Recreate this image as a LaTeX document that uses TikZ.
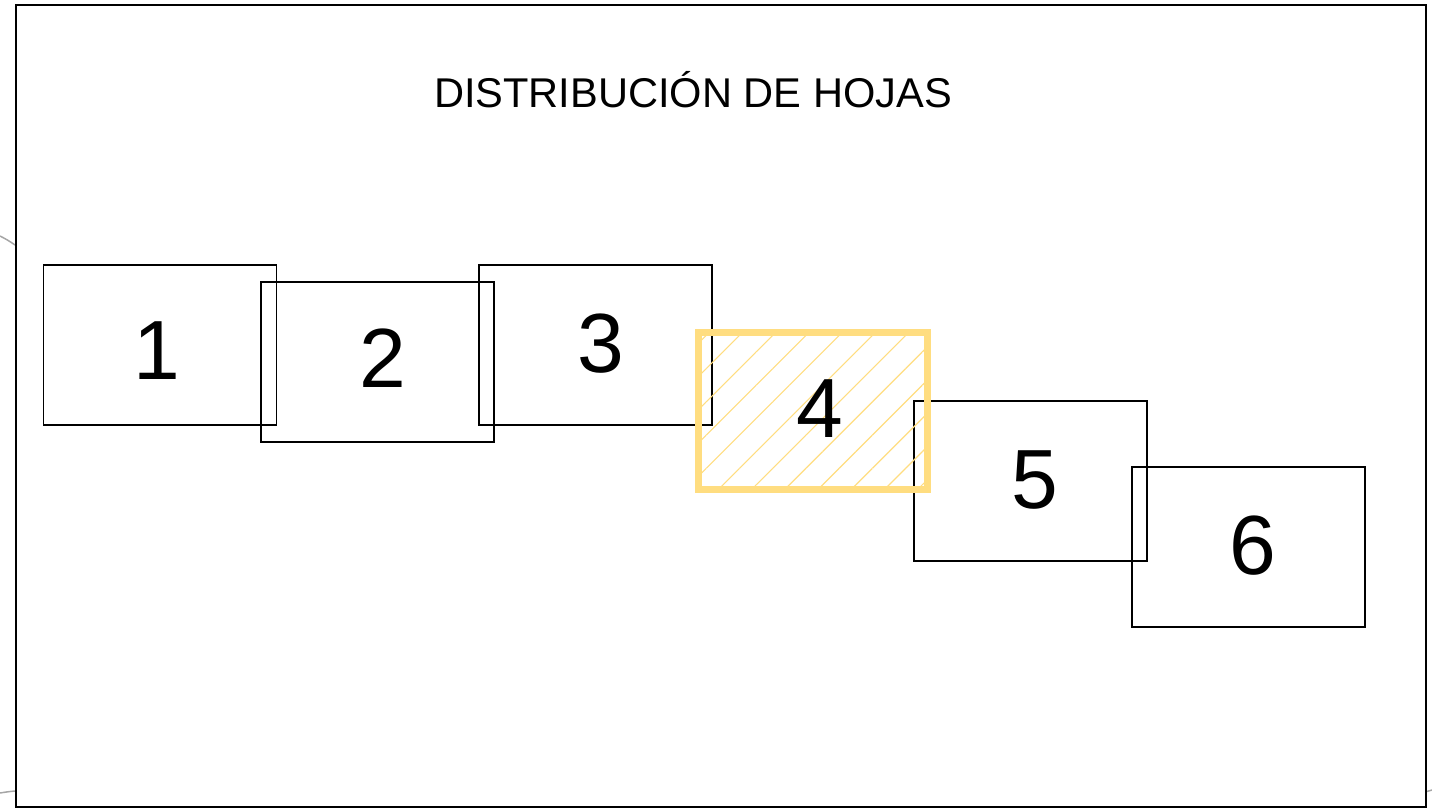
\documentclass[tikz,border=0pt]{standalone}
\usepackage{fontspec}
\setmainfont{Liberation Sans}
\usepackage{xcolor}
\usetikzlibrary{patterns.meta}
\definecolor{hojaamarilla}{RGB}{255,221,128}
\tikzset{
	numero/.style={font=\fontsize{42}{50}\selectfont, inner sep=0pt},
	hoja/.style n args={3}{draw, line width=0.75pt, minimum width=116.5pt, minimum height=80pt, inner sep=0pt,
		label={[numero, xshift=#2, yshift=#3]center:#1}},
	hojasel/.style n args={3}{draw=hojaamarilla, line width=3.75pt, minimum width=114.5pt, minimum height=78.5pt, inner sep=0pt,
		pattern={Lines[angle=45, distance=11.75pt, line width=0.55pt]}, pattern color=hojaamarilla,
		label={[numero, xshift=#2, yshift=#3]center:#1}},
	arco/.style={draw=gray!70, line width=0.75pt}
}
\begin{document}
\begin{tikzpicture}[x=0.5pt, y=-0.5pt]
			\useasboundingbox (0,0) rectangle (1432,809);
			%coordinates
			\coordinate (Cuno)    at (160,345);
			\coordinate (Cdos)    at (377.5,362);
			\coordinate (Ctres)   at (595.5,345);
			\coordinate (Ccuatro) at (813,411);
			\coordinate (Ccinco)  at (1030.5,481);
			\coordinate (Cseis)   at (1248.5,547);
			
			%bits of the sheet behind
			\draw[arco] (0,236) to[bend left=4] (15,245);
			\draw[arco] (0,793) to[bend left=2] (15,791);
			\draw[arco] (1425,792) -- (1432,790);
			
			%frame
			\node[draw, line width=1pt, fill=white, minimum width=705pt, minimum height=401pt, anchor=north west, inner sep=0pt] (marco) at (15,4) {};
			\node[font=\fontsize{20.8}{25}\selectfont] (titulo) at (693,90) {DISTRIBUCIÓN DE HOJAS};
			
			%nodes
			\node[hoja={1}{-1.5pt}{-3pt}]    (h1) at (Cuno)   {};
			\node[hoja={2}{2.75pt}{2pt}]     (h2) at (Cdos)   {};
			\node[hoja={3}{2.5pt}{0.5pt}]    (h3) at (Ctres)  {};
			\node[hoja={5}{2pt}{0.5pt}]      (h5) at (Ccinco) {};
			\node[hoja={6}{2pt}{0.5pt}]      (h6) at (Cseis)  {};
			\node[hojasel={4}{3.5pt}{1.25pt}] (h4) at (Ccuatro) {};
\end{tikzpicture}
\end{document}
